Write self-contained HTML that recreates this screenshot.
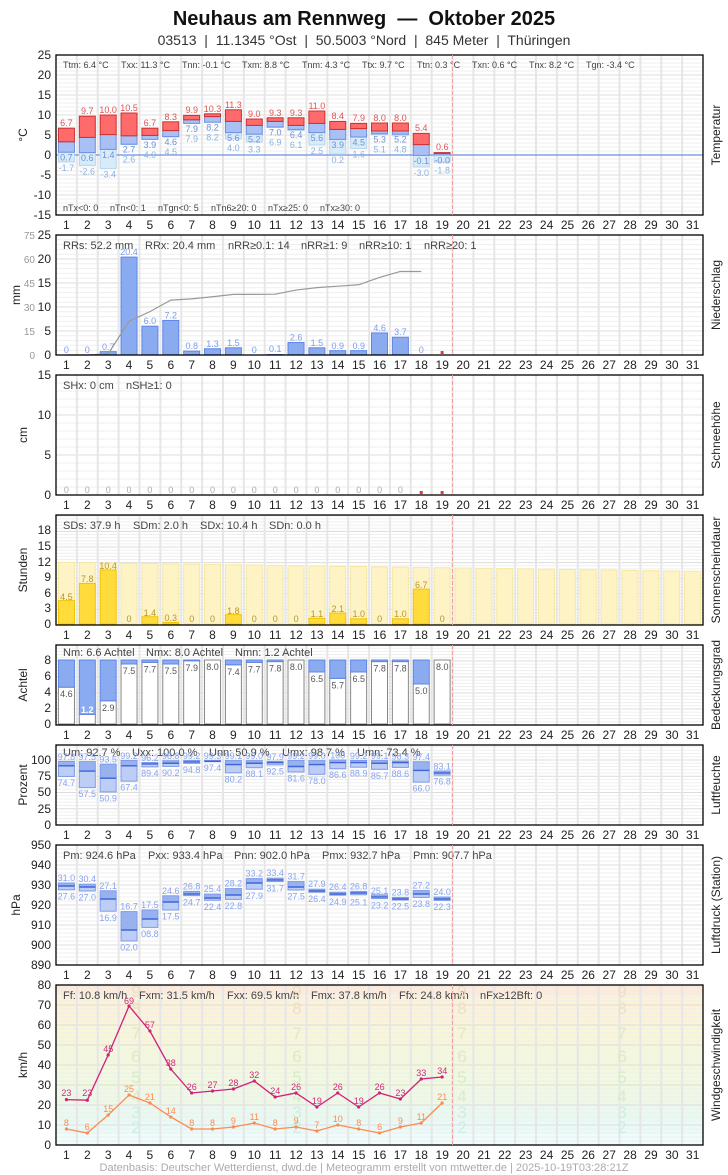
<!DOCTYPE html>
<html><head><meta charset="utf-8"><style>
body{margin:0;background:#fff;}
svg{display:block;font-family:"Liberation Sans",sans-serif;}
.tk text{text-anchor:middle;font-size:12px;fill:#222;}
.yl{text-anchor:end;font-size:12px;fill:#222;}
.st{font-size:11px;fill:#444;}
.st9{font-size:9px;fill:#444;}
.rt{font-size:12px;fill:#222;text-anchor:middle;}
.v{font-size:9px;text-anchor:middle;}
.pre{white-space:pre;}
</style></head><body>
<svg id="s" width="728" height="1175" viewBox="0 0 728 1175" xmlns="http://www.w3.org/2000/svg">
<g id="bg"></g>
<g id="shapes"></g>
<text class="pre" x="364" y="25" text-anchor="middle" font-size="20" font-weight="bold" fill="#111">Neuhaus am Rennweg  —  Oktober 2025</text>
<text class="pre" x="364" y="45" text-anchor="middle" font-size="14" fill="#333">03513  |  11.1345 °Ost  |  50.5003 °Nord  |  845 Meter  |  Thüringen</text>

<!-- y tick labels -->
<g class="yl">
<text x="51" y="59">25</text><text x="51" y="79">20</text><text x="51" y="99">15</text><text x="51" y="119">10</text><text x="51" y="139">5</text><text x="51" y="159">0</text><text x="51" y="179">-5</text><text x="51" y="199">-10</text><text x="51" y="219">-15</text>
<text x="51" y="239">25</text><text x="51" y="263">20</text><text x="51" y="287">15</text><text x="51" y="311">10</text><text x="51" y="335">5</text><text x="51" y="359">0</text>
<text x="51" y="379">15</text><text x="51" y="419">10</text><text x="51" y="459">5</text><text x="51" y="499">0</text>
<text x="51" y="534">18</text><text x="51" y="550">15</text><text x="51" y="566">12</text><text x="51" y="581">9</text><text x="51" y="597">6</text><text x="51" y="612">3</text><text x="51" y="628">0</text>
<text x="51" y="664">8</text><text x="51" y="680">6</text><text x="51" y="696">4</text><text x="51" y="712">2</text><text x="51" y="728">0</text>
<text x="51" y="764">100</text><text x="51" y="780">75</text><text x="51" y="796">50</text><text x="51" y="813">25</text><text x="51" y="829">0</text>
<text x="51" y="849">950</text><text x="51" y="869">940</text><text x="51" y="889">930</text><text x="51" y="909">920</text><text x="51" y="929">910</text><text x="51" y="949">900</text><text x="51" y="969">890</text>
<text x="51" y="989">80</text><text x="51" y="1009">70</text><text x="51" y="1029">60</text><text x="51" y="1049">50</text><text x="51" y="1069">40</text><text x="51" y="1089">30</text><text x="51" y="1109">20</text><text x="51" y="1129">10</text><text x="51" y="1149">0</text>
</g>
<g text-anchor="end" font-size="10" fill="#999">
<text x="35" y="239">75</text><text x="35" y="263">60</text><text x="35" y="287">45</text><text x="35" y="311">30</text><text x="35" y="335">15</text><text x="35" y="359">0</text>
</g>

<!-- left titles -->
<g class="rt">
<text transform="translate(27,135) rotate(-90)">°C</text>
<text transform="translate(20,295) rotate(-90)">mm</text>
<text transform="translate(27,435) rotate(-90)">cm</text>
<text transform="translate(27,570) rotate(-90)">Stunden</text>
<text transform="translate(27,685) rotate(-90)">Achtel</text>
<text transform="translate(27,785) rotate(-90)">Prozent</text>
<text transform="translate(20,905) rotate(-90)">hPa</text>
<text transform="translate(27,1065) rotate(-90)">km/h</text>
<text transform="translate(720,135) rotate(-90)">Temperatur</text>
<text transform="translate(720,295) rotate(-90)">Niederschlag</text>
<text transform="translate(720,435) rotate(-90)">Schneehöhe</text>
<text transform="translate(720,570) rotate(-90)">Sonnenscheindauer</text>
<text transform="translate(720,685) rotate(-90)">Bedeckungsgrad</text>
<text transform="translate(720,785) rotate(-90)">Luftfeuchte</text>
<text transform="translate(720,905) rotate(-90)">Luftdruck (Station)</text>
<text transform="translate(720,1065) rotate(-90)">Windgeschwindigkeit</text>
</g>

<!-- stats -->
<g class="st9">
<text x="63" y="68">Ttm: 6.4 °C</text><text x="121" y="68">Txx: 11.3 °C</text><text x="182" y="68">Tnn: -0.1 °C</text><text x="242" y="68">Txm: 8.8 °C</text><text x="302" y="68">Tnm: 4.3 °C</text><text x="362" y="68">Ttx: 9.7 °C</text><text x="417" y="68">Ttn: 0.3 °C</text><text x="472" y="68">Txn: 0.6 °C</text><text x="529" y="68">Tnx: 8.2 °C</text><text x="586" y="68">Tgn: -3.4 °C</text>
<text x="63" y="211">nTx&lt;0: 0</text><text x="110" y="211">nTn&lt;0: 1</text><text x="158" y="211">nTgn&lt;0: 5</text><text x="211" y="211">nTn6≥20: 0</text><text x="268" y="211">nTx≥25: 0</text><text x="320" y="211">nTx≥30: 0</text>
</g>
<g class="st">
<text x="63" y="249">RRs: 52.2 mm</text><text x="145" y="249">RRx: 20.4 mm</text><text x="228" y="249">nRR≥0.1: 14</text><text x="301" y="249">nRR≥1: 9</text><text x="359" y="249">nRR≥10: 1</text><text x="424" y="249">nRR≥20: 1</text>
<text x="63" y="389">SHx: 0 cm</text><text x="126" y="389">nSH≥1: 0</text>
<text x="63" y="529">SDs: 37.9 h</text><text x="133" y="529">SDm: 2.0 h</text><text x="200" y="529">SDx: 10.4 h</text><text x="269" y="529">SDn: 0.0 h</text>
<text x="63" y="656">Nm: 6.6 Achtel</text><text x="146" y="656">Nmx: 8.0 Achtel</text><text x="235" y="656">Nmn: 1.2 Achtel</text>
<text x="63" y="756">Um: 92.7 %</text><text x="132" y="756">Uxx: 100.0 %</text><text x="209" y="756">Unn: 50.9 %</text><text x="282" y="756">Umx: 98.7 %</text><text x="357" y="756">Umn: 73.4 %</text>
<text x="63" y="859">Pm: 924.6 hPa</text><text x="148" y="859">Pxx: 933.4 hPa</text><text x="234" y="859">Pnn: 902.0 hPa</text><text x="322" y="859">Pmx: 932.7 hPa</text><text x="413" y="859">Pmn: 907.7 hPa</text>
<text x="63" y="999">Ff: 10.8 km/h</text><text x="139" y="999">Fxm: 31.5 km/h</text><text x="227" y="999">Fxx: 69.5 km/h</text><text x="311" y="999">Fmx: 37.8 km/h</text><text x="399" y="999">Ffx: 24.8 km/h</text><text x="480" y="999">nFx≥12Bft: 0</text>
</g>

<!-- temp labels -->
<g class="v" fill="#e05555">
<text x="66.4" y="126">6.7</text><text x="87.3" y="114">9.7</text><text x="108.2" y="113">10.0</text><text x="129" y="111">10.5</text><text x="149.9" y="126">6.7</text><text x="170.8" y="120">8.3</text><text x="191.7" y="113">9.9</text><text x="212.5" y="112">10.3</text><text x="233.4" y="108">11.3</text><text x="254.3" y="117">9.0</text><text x="275.2" y="116">9.3</text><text x="296.1" y="116">9.3</text><text x="316.9" y="109">11.0</text><text x="337.8" y="119">8.4</text><text x="358.7" y="121">7.9</text><text x="379.6" y="121">8.0</text><text x="400.4" y="121">8.0</text><text x="421.3" y="131">5.4</text><text x="442.2" y="150">0.6</text>
</g>
<g class="v" fill="#6f90d8">
<text x="66.4" y="160.7">0.7</text><text x="87.3" y="161.1">0.6</text><text x="108.2" y="157.9">1.4</text><text x="129" y="152.7">2.7</text><text x="149.9" y="147.9">3.9</text><text x="170.8" y="145.1">4.6</text><text x="191.7" y="131.9">7.9</text><text x="212.5" y="130.7">8.2</text><text x="233.4" y="141.1">5.6</text><text x="254.3" y="142.7">5.2</text><text x="275.2" y="135.5">7.0</text><text x="296.1" y="137.9">6.4</text><text x="316.9" y="141.1">5.6</text><text x="337.8" y="147.9">3.9</text><text x="358.7" y="145.5">4.5</text><text x="379.6" y="142.3">5.3</text><text x="400.4" y="142.7">5.2</text><text x="421.3" y="163.9">-0.1</text><text x="442.2" y="163.5">-0.0</text>
</g>
<g class="v" fill="#8ab4e0">
<text x="66.4" y="170.8">-1.7</text><text x="87.3" y="174.4">-2.6</text><text x="108.2" y="177.6">-3.4</text><text x="129" y="162.7">2.6</text><text x="149.9" y="157.9">4.0</text><text x="170.8" y="155.1">4.5</text><text x="191.7" y="141.9">7.9</text><text x="212.5" y="140.7">8.2</text><text x="233.4" y="151.1">4.0</text><text x="254.3" y="152.7">3.3</text><text x="275.2" y="145.5">6.9</text><text x="296.1" y="147.9">6.1</text><text x="316.9" y="154">2.5</text><text x="337.8" y="163.2">0.2</text><text x="358.7" y="157.6">1.6</text><text x="379.6" y="152.3">5.1</text><text x="400.4" y="152.7">4.8</text><text x="421.3" y="176">-3.0</text><text x="442.2" y="173.5">-1.8</text>
</g>
<!-- precip labels -->
<g class="v" fill="#7c9cf0">
<text x="66.4" y="353">0</text><text x="87.3" y="353">0</text><text x="108.2" y="350">0.7</text><text x="129" y="255">20.4</text><text x="149.9" y="324">6.0</text><text x="170.8" y="318.5">7.2</text><text x="191.7" y="349">0.8</text><text x="212.5" y="347">1.3</text><text x="233.4" y="346">1.5</text><text x="254.3" y="353">0</text><text x="275.2" y="352">0.1</text><text x="296.1" y="340.5">2.6</text><text x="316.9" y="346">1.5</text><text x="337.8" y="349">0.9</text><text x="358.7" y="349">0.9</text><text x="379.6" y="331">4.6</text><text x="400.4" y="335">3.7</text><text x="421.3" y="353">0</text>
</g>
<!-- snow labels -->
<g class="v" fill="#aaa">
<text x="66.4" y="493">0</text><text x="87.3" y="493">0</text><text x="108.2" y="493">0</text><text x="129" y="493">0</text><text x="149.9" y="493">0</text><text x="170.8" y="493">0</text><text x="191.7" y="493">0</text><text x="212.5" y="493">0</text><text x="233.4" y="493">0</text><text x="254.3" y="493">0</text><text x="275.2" y="493">0</text><text x="296.1" y="493">0</text><text x="316.9" y="493">0</text><text x="337.8" y="493">0</text><text x="358.7" y="493">0</text><text x="379.6" y="493">0</text><text x="400.4" y="493">0</text>
</g>
<!-- sun labels -->
<g class="v" fill="#b8962a">
<text x="66.4" y="600">4.5</text><text x="87.3" y="582">7.8</text><text x="108.2" y="569">10.4</text><text x="129" y="622">0</text><text x="149.9" y="616">1.4</text><text x="170.8" y="621">0.3</text><text x="191.7" y="622">0</text><text x="212.5" y="622">0</text><text x="233.4" y="614">1.8</text><text x="254.3" y="622">0</text><text x="275.2" y="622">0</text><text x="296.1" y="622">0</text><text x="316.9" y="617">1.1</text><text x="337.8" y="612">2.1</text><text x="358.7" y="617">1.0</text><text x="379.6" y="622">0</text><text x="400.4" y="617">1.0</text><text x="421.3" y="588">6.7</text><text x="442.2" y="622">0</text>
</g>
<!-- cloud labels -->
<g class="v" fill="#555">
<text x="66.4" y="697">4.6</text><text x="87.3" y="713" fill="#fff" font-weight="bold">1.2</text><text x="108.2" y="710.8">2.9</text><text x="129" y="674">7.5</text><text x="149.9" y="672.4">7.7</text><text x="170.8" y="674">7.5</text><text x="191.7" y="670.8">7.9</text><text x="212.5" y="670">8.0</text><text x="233.4" y="674.8">7.4</text><text x="254.3" y="672.4">7.7</text><text x="275.2" y="671.6">7.8</text><text x="296.1" y="670">8.0</text><text x="316.9" y="682">6.5</text><text x="337.8" y="688.4">5.7</text><text x="358.7" y="682">6.5</text><text x="379.6" y="671.6">7.8</text><text x="400.4" y="671.6">7.8</text><text x="421.3" y="694">5.0</text><text x="442.2" y="670">8.0</text>
</g>
<!-- humidity labels -->
<g class="v" fill="#88a4f0">
<text x="66.4" y="760">97.8</text><text x="87.3" y="760">97.5</text><text x="108.2" y="762.5">93.5</text><text x="129" y="759">99.2</text><text x="149.9" y="761">96.2</text><text x="170.8" y="759">98.8</text><text x="191.7" y="759">99.2</text><text x="212.5" y="759">99.3</text><text x="233.4" y="759">99.1</text><text x="254.3" y="759">99.0</text><text x="275.2" y="760">97.9</text><text x="296.1" y="759">99.2</text><text x="316.9" y="759">99.0</text><text x="337.8" y="758.5">100</text><text x="358.7" y="759">99.2</text><text x="379.6" y="759">99.1</text><text x="400.4" y="759.5">98.3</text><text x="421.3" y="760">97.4</text><text x="442.2" y="769.5">83.1</text>
<text x="66.4" y="786">74.7</text><text x="87.3" y="797">57.5</text><text x="108.2" y="801.4">50.9</text><text x="129" y="790.7">67.4</text><text x="149.9" y="776.4">89.4</text><text x="170.8" y="775.9">90.2</text><text x="191.7" y="772.9">94.8</text><text x="212.5" y="771.2">97.4</text><text x="233.4" y="782.4">80.2</text><text x="254.3" y="777.2">88.1</text><text x="275.2" y="774.4">92.5</text><text x="296.1" y="781.5">81.6</text><text x="316.9" y="783.8">78.0</text><text x="337.8" y="778.2">86.6</text><text x="358.7" y="776.7">88.9</text><text x="379.6" y="778.8">85.7</text><text x="400.4" y="776.9">88.6</text><text x="421.3" y="791.6">66.0</text><text x="442.2" y="784.6">76.8</text>
</g>
<!-- pressure labels -->
<g class="v" fill="#88a4f0">
<text x="66.4" y="881">31.0</text><text x="87.3" y="882.2">30.4</text><text x="108.2" y="888.8">27.1</text><text x="129" y="909.6">16.7</text><text x="149.9" y="908">17.5</text><text x="170.8" y="893.8">24.6</text><text x="191.7" y="889.4">26.8</text><text x="212.5" y="892.2">25.4</text><text x="233.4" y="886.6">28.2</text><text x="254.3" y="876.6">33.2</text><text x="275.2" y="876.2">33.4</text><text x="296.1" y="879.6">31.7</text><text x="316.9" y="887.2">27.9</text><text x="337.8" y="890.2">26.4</text><text x="358.7" y="889.4">26.8</text><text x="379.6" y="893.8">25.1</text><text x="400.4" y="895.4">23.8</text><text x="421.3" y="888.6">27.2</text><text x="442.2" y="895">24.0</text>
<text x="66.4" y="899.5">27.6</text><text x="87.3" y="900.7">27.0</text><text x="108.2" y="920.9">16.9</text><text x="129" y="950.7">02.0</text><text x="149.9" y="937.1">08.8</text><text x="170.8" y="919.7">17.5</text><text x="191.7" y="905.3">24.7</text><text x="212.5" y="909.9">22.4</text><text x="233.4" y="909.1">22.8</text><text x="254.3" y="898.9">27.9</text><text x="275.2" y="891.3">31.7</text><text x="296.1" y="899.7">27.5</text><text x="316.9" y="901.9">26.4</text><text x="337.8" y="904.9">24.9</text><text x="358.7" y="905.5">25.1</text><text x="379.6" y="908.3">23.2</text><text x="400.4" y="909.7">22.5</text><text x="421.3" y="907.1">23.8</text><text x="442.2" y="910.1">22.3</text>
</g>
<!-- wind big bft numbers -->
<g font-size="17" text-anchor="middle">
<g fill="#cdeee4"><text x="136" y="1133">2</text><text x="297" y="1133">2</text><text x="462" y="1133">2</text><text x="622" y="1133">2</text><text x="136" y="1118">3</text><text x="297" y="1118">3</text><text x="462" y="1118">3</text><text x="622" y="1118">3</text></g>
<g fill="#d6ecc8"><text x="136" y="1102">4</text><text x="297" y="1102">4</text><text x="462" y="1102">4</text><text x="622" y="1102">4</text><text x="136" y="1083">5</text><text x="297" y="1083">5</text><text x="462" y="1083">5</text><text x="622" y="1083">5</text></g>
<g fill="#e2e8c2"><text x="136" y="1062">6</text><text x="297" y="1062">6</text><text x="462" y="1062">6</text><text x="622" y="1062">6</text><text x="136" y="1039">7</text><text x="297" y="1039">7</text><text x="462" y="1039">7</text><text x="622" y="1039">7</text></g>
<g fill="#ecdfc4"><text x="136" y="1014">8</text><text x="297" y="1014">8</text><text x="462" y="1014">8</text><text x="622" y="1014">8</text><text x="136" y="997">9</text><text x="297" y="997">9</text><text x="462" y="997">9</text><text x="622" y="997">9</text></g>
</g>
<g id="wl"></g>
<!-- wind labels -->
<g class="v" fill="#d0287a">
<text x="66.4" y="1096">23</text><text x="87.3" y="1096">23</text><text x="108.2" y="1052">45</text><text x="129" y="1004">69</text><text x="149.9" y="1028">57</text><text x="170.8" y="1066">38</text><text x="191.7" y="1090">26</text><text x="212.5" y="1088">27</text><text x="233.4" y="1086">28</text><text x="254.3" y="1078">32</text><text x="275.2" y="1094">24</text><text x="296.1" y="1090">26</text><text x="316.9" y="1104">19</text><text x="337.8" y="1090">26</text><text x="358.7" y="1104">19</text><text x="379.6" y="1090">26</text><text x="400.4" y="1096">23</text><text x="421.3" y="1076">33</text><text x="442.2" y="1074">34</text>
</g>
<g class="v" fill="#ff8a50">
<text x="66.4" y="1126">8</text><text x="87.3" y="1130">6</text><text x="108.2" y="1112">15</text><text x="129" y="1092">25</text><text x="149.9" y="1100">21</text><text x="170.8" y="1114">14</text><text x="191.7" y="1126">8</text><text x="212.5" y="1126">8</text><text x="233.4" y="1124">9</text><text x="254.3" y="1120">11</text><text x="275.2" y="1126">8</text><text x="296.1" y="1124">9</text><text x="316.9" y="1128">7</text><text x="337.8" y="1122">10</text><text x="358.7" y="1126">8</text><text x="379.6" y="1130">6</text><text x="400.4" y="1124">9</text><text x="421.3" y="1120">11</text><text x="442.2" y="1100">21</text>
</g>

<!-- x tick rows -->
<g class="tk" transform="translate(0,229)"><text x="66.4">1</text><text x="87.3">2</text><text x="108.2">3</text><text x="129">4</text><text x="149.9">5</text><text x="170.8">6</text><text x="191.7">7</text><text x="212.5">8</text><text x="233.4">9</text><text x="254.3">10</text><text x="275.2">11</text><text x="296.1">12</text><text x="316.9">13</text><text x="337.8">14</text><text x="358.7">15</text><text x="379.6">16</text><text x="400.4">17</text><text x="421.3">18</text><text x="442.2">19</text><text x="463.1">20</text><text x="484">21</text><text x="504.8">22</text><text x="525.7">23</text><text x="546.6">24</text><text x="567.5">25</text><text x="588.3">26</text><text x="609.2">27</text><text x="630.1">28</text><text x="651">29</text><text x="671.9">30</text><text x="692.7">31</text></g>
<g class="tk" transform="translate(0,369)"><text x="66.4">1</text><text x="87.3">2</text><text x="108.2">3</text><text x="129">4</text><text x="149.9">5</text><text x="170.8">6</text><text x="191.7">7</text><text x="212.5">8</text><text x="233.4">9</text><text x="254.3">10</text><text x="275.2">11</text><text x="296.1">12</text><text x="316.9">13</text><text x="337.8">14</text><text x="358.7">15</text><text x="379.6">16</text><text x="400.4">17</text><text x="421.3">18</text><text x="442.2">19</text><text x="463.1">20</text><text x="484">21</text><text x="504.8">22</text><text x="525.7">23</text><text x="546.6">24</text><text x="567.5">25</text><text x="588.3">26</text><text x="609.2">27</text><text x="630.1">28</text><text x="651">29</text><text x="671.9">30</text><text x="692.7">31</text></g>
<g class="tk" transform="translate(0,509)"><text x="66.4">1</text><text x="87.3">2</text><text x="108.2">3</text><text x="129">4</text><text x="149.9">5</text><text x="170.8">6</text><text x="191.7">7</text><text x="212.5">8</text><text x="233.4">9</text><text x="254.3">10</text><text x="275.2">11</text><text x="296.1">12</text><text x="316.9">13</text><text x="337.8">14</text><text x="358.7">15</text><text x="379.6">16</text><text x="400.4">17</text><text x="421.3">18</text><text x="442.2">19</text><text x="463.1">20</text><text x="484">21</text><text x="504.8">22</text><text x="525.7">23</text><text x="546.6">24</text><text x="567.5">25</text><text x="588.3">26</text><text x="609.2">27</text><text x="630.1">28</text><text x="651">29</text><text x="671.9">30</text><text x="692.7">31</text></g>
<g class="tk" transform="translate(0,639)"><text x="66.4">1</text><text x="87.3">2</text><text x="108.2">3</text><text x="129">4</text><text x="149.9">5</text><text x="170.8">6</text><text x="191.7">7</text><text x="212.5">8</text><text x="233.4">9</text><text x="254.3">10</text><text x="275.2">11</text><text x="296.1">12</text><text x="316.9">13</text><text x="337.8">14</text><text x="358.7">15</text><text x="379.6">16</text><text x="400.4">17</text><text x="421.3">18</text><text x="442.2">19</text><text x="463.1">20</text><text x="484">21</text><text x="504.8">22</text><text x="525.7">23</text><text x="546.6">24</text><text x="567.5">25</text><text x="588.3">26</text><text x="609.2">27</text><text x="630.1">28</text><text x="651">29</text><text x="671.9">30</text><text x="692.7">31</text></g>
<g class="tk" transform="translate(0,739)"><text x="66.4">1</text><text x="87.3">2</text><text x="108.2">3</text><text x="129">4</text><text x="149.9">5</text><text x="170.8">6</text><text x="191.7">7</text><text x="212.5">8</text><text x="233.4">9</text><text x="254.3">10</text><text x="275.2">11</text><text x="296.1">12</text><text x="316.9">13</text><text x="337.8">14</text><text x="358.7">15</text><text x="379.6">16</text><text x="400.4">17</text><text x="421.3">18</text><text x="442.2">19</text><text x="463.1">20</text><text x="484">21</text><text x="504.8">22</text><text x="525.7">23</text><text x="546.6">24</text><text x="567.5">25</text><text x="588.3">26</text><text x="609.2">27</text><text x="630.1">28</text><text x="651">29</text><text x="671.9">30</text><text x="692.7">31</text></g>
<g class="tk" transform="translate(0,839)"><text x="66.4">1</text><text x="87.3">2</text><text x="108.2">3</text><text x="129">4</text><text x="149.9">5</text><text x="170.8">6</text><text x="191.7">7</text><text x="212.5">8</text><text x="233.4">9</text><text x="254.3">10</text><text x="275.2">11</text><text x="296.1">12</text><text x="316.9">13</text><text x="337.8">14</text><text x="358.7">15</text><text x="379.6">16</text><text x="400.4">17</text><text x="421.3">18</text><text x="442.2">19</text><text x="463.1">20</text><text x="484">21</text><text x="504.8">22</text><text x="525.7">23</text><text x="546.6">24</text><text x="567.5">25</text><text x="588.3">26</text><text x="609.2">27</text><text x="630.1">28</text><text x="651">29</text><text x="671.9">30</text><text x="692.7">31</text></g>
<g class="tk" transform="translate(0,979)"><text x="66.4">1</text><text x="87.3">2</text><text x="108.2">3</text><text x="129">4</text><text x="149.9">5</text><text x="170.8">6</text><text x="191.7">7</text><text x="212.5">8</text><text x="233.4">9</text><text x="254.3">10</text><text x="275.2">11</text><text x="296.1">12</text><text x="316.9">13</text><text x="337.8">14</text><text x="358.7">15</text><text x="379.6">16</text><text x="400.4">17</text><text x="421.3">18</text><text x="442.2">19</text><text x="463.1">20</text><text x="484">21</text><text x="504.8">22</text><text x="525.7">23</text><text x="546.6">24</text><text x="567.5">25</text><text x="588.3">26</text><text x="609.2">27</text><text x="630.1">28</text><text x="651">29</text><text x="671.9">30</text><text x="692.7">31</text></g>
<g class="tk" transform="translate(0,1159)"><text x="66.4">1</text><text x="87.3">2</text><text x="108.2">3</text><text x="129">4</text><text x="149.9">5</text><text x="170.8">6</text><text x="191.7">7</text><text x="212.5">8</text><text x="233.4">9</text><text x="254.3">10</text><text x="275.2">11</text><text x="296.1">12</text><text x="316.9">13</text><text x="337.8">14</text><text x="358.7">15</text><text x="379.6">16</text><text x="400.4">17</text><text x="421.3">18</text><text x="442.2">19</text><text x="463.1">20</text><text x="484">21</text><text x="504.8">22</text><text x="525.7">23</text><text x="546.6">24</text><text x="567.5">25</text><text x="588.3">26</text><text x="609.2">27</text><text x="630.1">28</text><text x="651">29</text><text x="671.9">30</text><text x="692.7">31</text></g>

<text x="364" y="1171" text-anchor="middle" font-size="11" fill="#aaa">Datenbasis: Deutscher Wetterdienst, dwd.de | Meteogramm erstellt von mtwetter.de | 2025-10-19T03:28:21Z</text>
<g id="frames"></g>
</svg>
<script>
(function(){
var NS="http://www.w3.org/2000/svg";
function el(p,t,a){var e=document.createElementNS(NS,t);for(var k in a)e.setAttribute(k,a[k]);p.appendChild(e);return e;}
var bg=document.getElementById('bg'),sh=document.getElementById('shapes'),fr=document.getElementById('frames'),wl=document.getElementById('wl');
var L=56,R=703,W=(R-L)/31;function cx(i){return L+(i-0.5)*W;}
var panels=[[55,215,40,5],[235,355,25,5],[375,495,15,5],[515,625,21.15,3],[645,725,10,2],[745,825,123,25],[845,965,60,10],[985,1145,80,10]];
var bands=[[0,1,'#f2fcfc'],[1,6,'#eefcfb'],[6,12,'#e9fbf7'],[12,20,'#e8f9f0'],[20,29,'#eef9e4'],[29,39,'#f1f9de'],[39,50,'#f4f8da'],[50,62,'#f8f6d6'],[62,75,'#fbf2d8'],[75,80,'#fce9d8']];
bands.forEach(function(b){el(bg,'rect',{x:L,y:1145-2*b[1],width:R-L,height:2*(b[1]-b[0]),fill:b[2]});});
panels.forEach(function(p,pi){
 var t=p[0],b=p[1],rng=p[2],st=p[3],ppu=(b-t)/rng;
 var minor=st/5;
 for(var v=0;v<=rng+0.001;v+=minor){var y=b-v*ppu; if(y<t)break; var maj=Math.abs(v/st-Math.round(v/st))<1e-6;
  el(bg,'line',{x1:L,x2:R,y1:y,y2:y,stroke:maj?'#dcdcdc':'#efefef','stroke-width':1});}
 for(var k=1;k<31;k++){var x=L+k*W;el(bg,'line',{x1:x,x2:x,y1:t,y2:b,stroke:'#e6e6e6','stroke-width':2});}
 el(fr,'rect',{x:L,y:t,width:R-L,height:b-t,fill:'none',stroke:'#000','stroke-width':1.3});
 el(fr,'line',{x1:452.5,x2:452.5,y1:t,y2:b,stroke:'#f2a0a0','stroke-width':1,'stroke-dasharray':'4,2'});
});
el(bg,'line',{x1:L,x2:R,y1:155,y2:155,stroke:'#6b8fe0','stroke-width':1.2});
var Tx=[6.7,9.7,10,10.5,6.7,8.3,9.9,10.3,11.3,9,9.3,9.3,11,8.4,7.9,8,8,5.4,0.6],
Tm=[3.3,4.4,5.1,4.8,4.9,6.1,8.8,9.6,8.4,7.4,8.4,7.4,7.9,6.4,6.6,6.0,6.0,2.6,0.4],
Tn=[0.7,0.6,1.4,2.7,3.9,4.6,7.9,8.2,5.6,5.2,7.0,6.4,5.6,3.9,4.5,5.3,5.2,-0.1,0.0],
Tg=[-1.7,-2.6,-3.4,2.6,4.0,4.5,7.9,8.2,4.0,3.3,6.9,6.1,2.5,0.2,1.6,5.1,4.8,-3.0,-1.8];
function ty(v){return 155-4*v;}
for(var i=0;i<19;i++){var x=cx(i+1)-8;
 if(Tg[i]<Tn[i])el(sh,'rect',{x:x,y:ty(Tn[i]),width:16,height:ty(Tg[i])-ty(Tn[i]),fill:'#d8ebf8',stroke:'#b8d6ee','stroke-width':1});
 el(sh,'rect',{x:x,y:ty(Tm[i]),width:16,height:ty(Tn[i])-ty(Tm[i]),fill:'#a8c0f3',stroke:'#6f8fe0','stroke-width':1});
 el(sh,'rect',{x:x,y:ty(Tx[i]),width:16,height:ty(Tm[i])-ty(Tx[i]),fill:'#ff6b6b',stroke:'#c83030','stroke-width':1});
}
var P=[0,0,0.7,20.4,6.0,7.2,0.8,1.3,1.5,0,0.1,2.6,1.5,0.9,0.9,4.6,3.7,0],cum=0,pts=[];
for(var i=0;i<18;i++){cum+=P[i];pts.push(cx(i+1)+','+(355-1.6*cum));
 if(P[i]>0)el(sh,'rect',{x:cx(i+1)-8,y:355-4.8*P[i],width:16,height:4.8*P[i],fill:'#8aabf0',stroke:'#5f86e6','stroke-width':1});}
el(sh,'polyline',{points:pts.join(' '),fill:'none',stroke:'#999','stroke-width':1.2});
el(sh,'rect',{x:cx(19)-1.5,y:351,width:3,height:3,fill:'#e33'});
el(sh,'rect',{x:cx(18)-1.5,y:491,width:3,height:3,fill:'#e33'});
el(sh,'rect',{x:cx(19)-1.5,y:491,width:3,height:3,fill:'#e33'});
var S=[4.5,7.8,10.4,0,1.4,0.3,0,0,1.8,0,0,0,1.1,2.1,1.0,0,1.0,6.7,0];
for(var d=1;d<=31;d++){var pos=11.85-(d-1)*0.057;var y=624-5.2*pos;
 el(sh,'rect',{x:cx(d)-8,y:y,width:16,height:624-y,fill:'#fdf3c4',stroke:'#f7e7a4','stroke-width':1});}
for(var i=0;i<19;i++)if(S[i]>0)el(sh,'rect',{x:cx(i+1)-8,y:624-5.2*S[i],width:16,height:5.2*S[i],fill:'#ffdc3c',stroke:'#f2c400','stroke-width':1});
var N=[4.6,1.2,2.9,7.5,7.7,7.5,7.9,8.0,7.4,7.7,7.8,8.0,6.5,5.7,6.5,7.8,7.8,5.0,8.0];
for(var i=0;i<19;i++){var x=cx(i+1)-8,y=724-8*N[i];
 el(sh,'rect',{x:x,y:y,width:16,height:724-y,fill:'#fff',stroke:'#888','stroke-width':1});
 if(N[i]<8)el(sh,'rect',{x:x,y:660,width:16,height:y-660,fill:'#8aabf0',stroke:'#5f86e6','stroke-width':1});}
var Ux=[97.8,97.5,93.5,99.2,96.2,98.8,99.2,99.3,99.1,99.0,97.9,99.2,99.0,100,99.2,99.1,98.3,97.4,83.1],
Un=[74.7,57.5,50.9,67.4,89.4,90.2,94.8,97.4,80.2,88.1,92.5,81.6,78.0,86.6,88.9,85.7,88.6,66.0,76.8],
Um=[91,83,72,91,94,95,97,98,93,95,96,90,93,96,96,95,96,84,80];
function box(i,mx,mn,mm,f){var x=cx(i+1)-8;
 el(sh,'rect',{x:x,y:f(mm),width:16,height:f(mn)-f(mm),fill:'#bccdf6',stroke:'#7e9be8','stroke-width':1});
 el(sh,'rect',{x:x,y:f(mx),width:16,height:f(mm)-f(mx),fill:'#98b2f0',stroke:'#7e9be8','stroke-width':1});
 el(sh,'line',{x1:x,x2:x+16,y1:f(mm),y2:f(mm),stroke:'#3f66d6','stroke-width':1.4});}
for(var i=0;i<19;i++)box(i,Ux[i],Un[i],Um[i],function(v){return 825-0.65*v;});
var Px=[931.0,930.4,927.1,916.7,917.5,924.6,926.8,925.4,928.2,933.2,933.4,931.7,927.9,926.4,926.8,925.1,923.8,927.2,924.0],
Pn=[927.6,927.0,916.9,902.0,908.8,917.5,924.7,922.4,922.8,927.9,931.7,927.5,926.4,924.9,925.1,923.2,922.5,923.8,922.3],
Pm=[929.5,929,923,907.5,913,921.5,925.5,923.5,925,931,932.5,929,927,925.5,926,924,923,925.5,923];
for(var i=0;i<19;i++)box(i,Px[i],Pn[i],Pm[i],function(v){return 2745-2*v;});
var Fx=[22.7,22.4,45,69.5,57,38,26,27,28,32,24,26,19,26,19,26,23,33,34],
Ff=[8,6,15,25,21,14,8,8,9,11,8,9,7,10,8,6,9,11,21];
function line(a,c){var p=[];for(var i=0;i<a.length;i++){p.push(cx(i+1)+','+(1145-2*a[i]));el(wl,'circle',{cx:cx(i+1),cy:1145-2*a[i],r:1.6,fill:c});}
 el(wl,'polyline',{points:p.join(' '),fill:'none',stroke:c,'stroke-width':1.3});}
line(Fx,'#d0207a');line(Ff,'#ff8a50');
})();
</script>
</body></html>
